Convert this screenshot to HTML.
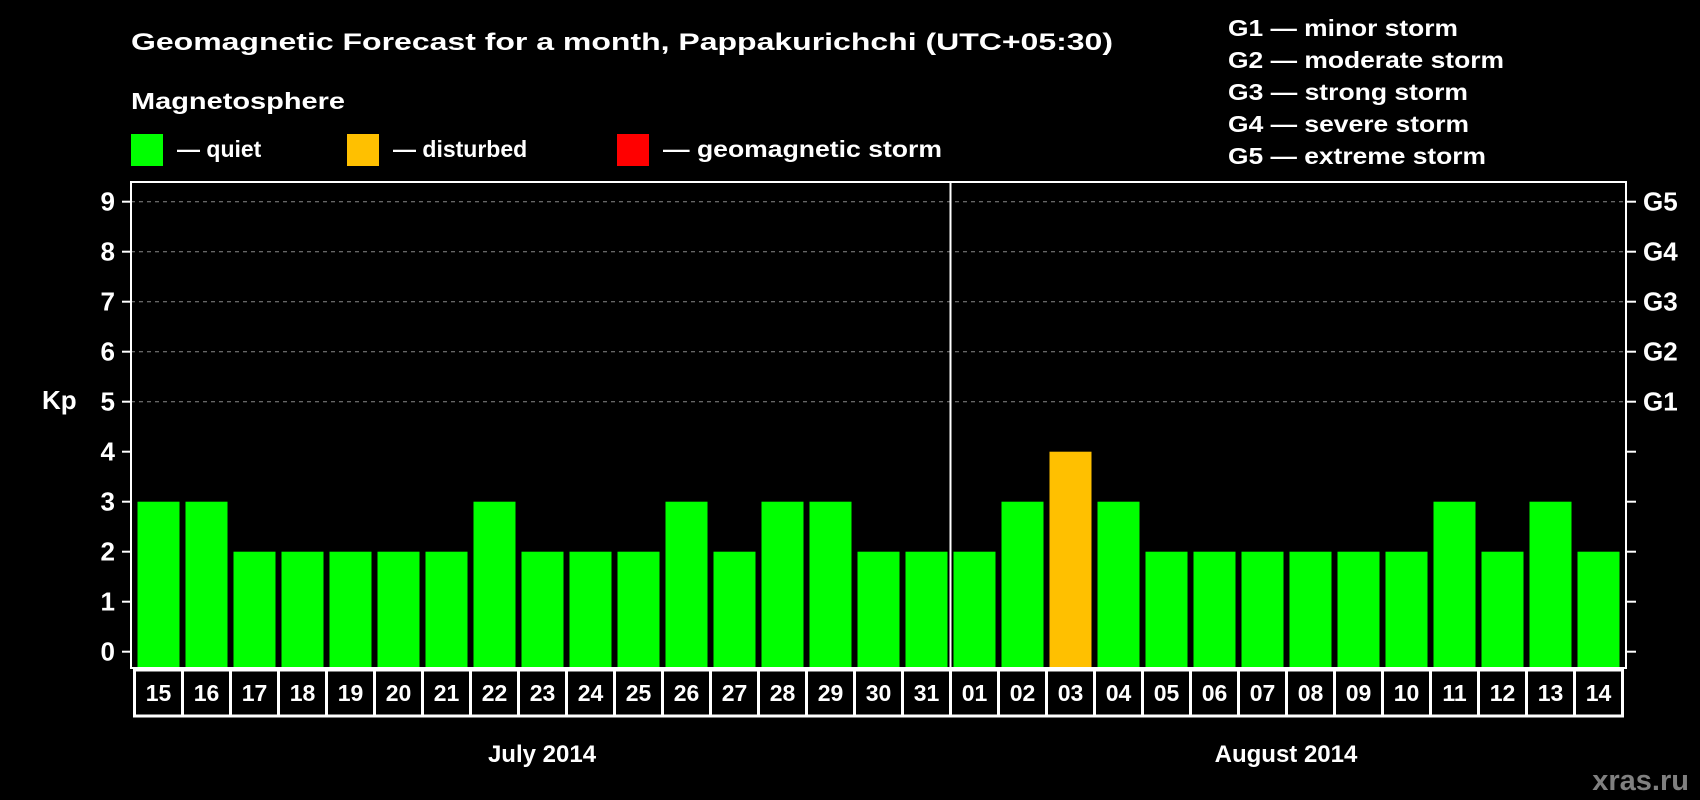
<!DOCTYPE html>
<html><head><meta charset="utf-8"><style>
html,body{margin:0;padding:0;background:#000;}
svg{display:block;font-family:"Liberation Sans",Arial,sans-serif;font-weight:bold;}
</style></head><body>
<svg id="chart" width="1700" height="800" viewBox="0 0 1700 800">
<rect width="1700" height="800" fill="#000"/>
<text x="131" y="50" fill="#fff" font-size="24" textLength="982" lengthAdjust="spacingAndGlyphs">Geomagnetic Forecast for a month, Pappakurichchi (UTC+05:30)</text>
<text x="131" y="109" fill="#fff" font-size="23" textLength="214" lengthAdjust="spacingAndGlyphs">Magnetosphere</text>
<g><rect x="131" y="134" width="32" height="32" fill="#00ff00"/><text x="177" y="157" fill="#fff" font-size="23">— quiet</text></g>
<g><rect x="347" y="134" width="32" height="32" fill="#ffc000"/><text x="393" y="157" fill="#fff" font-size="23">— disturbed</text></g>
<g><rect x="617" y="134" width="32" height="32" fill="#ff0000"/><text x="663" y="157" fill="#fff" font-size="23" textLength="279" lengthAdjust="spacingAndGlyphs">— geomagnetic storm</text></g>
<g fill="#fff" font-size="23">
<text x="1228" y="36" textLength="230" lengthAdjust="spacingAndGlyphs">G1 — minor storm</text>
<text x="1228" y="68" textLength="276" lengthAdjust="spacingAndGlyphs">G2 — moderate storm</text>
<text x="1228" y="100" textLength="240" lengthAdjust="spacingAndGlyphs">G3 — strong storm</text>
<text x="1228" y="132" textLength="241" lengthAdjust="spacingAndGlyphs">G4 — severe storm</text>
<text x="1228" y="164" textLength="258" lengthAdjust="spacingAndGlyphs">G5 — extreme storm</text>
</g>
<text x="42" y="409" fill="#fff" font-size="26">Kp</text>
<g id="grid"></g><g id="bars"></g><g id="axes"></g>
<text x="542" y="762" fill="#fff" font-size="24" text-anchor="middle">July 2014</text>
<text x="1286" y="762" fill="#fff" font-size="24" text-anchor="middle">August 2014</text>
<text x="1689" y="790" fill="#808080" font-size="29" text-anchor="end">xras.ru</text>
</svg>
<script>
const days = ["15","16","17","18","19","20","21","22","23","24","25","26","27","28","29","30","31","01","02","03","04","05","06","07","08","09","10","11","12","13","14"];
const kpValues = [3,3,2,2,2,2,2,3,2,2,2,3,2,3,3,2,2,2,3,4,3,2,2,2,2,2,2,3,2,3,2];
const yTicks = [0,1,2,3,4,5,6,7,8,9];
const gLabels = ["G1","G2","G3","G4","G5"];
const gLevels = [5,6,7,8,9];
const NS="http://www.w3.org/2000/svg";
const L=131,R=1626,T=182,B=668;
function yScale(v){return 651.7-v*50;}
function xScale(i){return 137.5+i*48;}
const BW=42;
function mk(tag,attrs,parent){const e=document.createElementNS(NS,tag);for(const k in attrs)e.setAttribute(k,attrs[k]);parent.appendChild(e);return e;}
const grid=document.getElementById('grid'),bars=document.getElementById('bars'),axes=document.getElementById('axes');
gLevels.forEach(v=>{const l=mk('line',{x1:L,x2:R,y1:yScale(v),y2:yScale(v),stroke:'#888','stroke-width':1,'stroke-dasharray':'4,4'},grid);

});
kpValues.forEach((v,i)=>{const c=v>=5?'#ff0000':(v>=4?'#ffc000':'#00ff00');
const r=mk('rect',{x:xScale(i),y:yScale(v),width:BW,height:B-yScale(v),fill:c},bars);


const bx=mk('rect',{x:xScale(i)-3,y:B+2,width:48,height:46,fill:'none',stroke:'#fff','stroke-width':3},axes);


const t=mk('text',{x:xScale(i)+21,y:B+33,fill:'#fff','font-size':23,'text-anchor':'middle'},axes);t.textContent=days[i];

});
const fr=mk('rect',{x:L,y:T,width:R-L,height:B-T,fill:'none',stroke:'#fff','stroke-width':2},axes);


const dv=mk('line',{x1:950.5,x2:950.5,y1:T,y2:B,stroke:'#fff','stroke-width':2},axes);


yTicks.forEach(v=>{const y=yScale(v);
const a=mk('line',{x1:122,x2:L,y1:y,y2:y,stroke:'#fff','stroke-width':2},axes);


const b=mk('line',{x1:R,x2:1636,y1:y,y2:y,stroke:'#fff','stroke-width':2},axes);


const t=mk('text',{x:115,y:y+9,fill:'#fff','font-size':26,'text-anchor':'end'},axes);t.textContent=v;

});
gLabels.forEach((g,i)=>{const t=mk('text',{x:1643,y:yScale(gLevels[i])+9,fill:'#fff','font-size':26},axes);t.textContent=g;

});
</script>
</body></html>
